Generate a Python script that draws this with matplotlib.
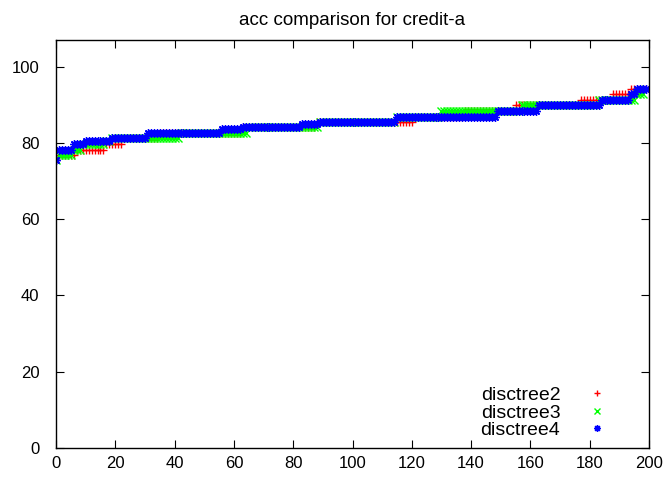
import numpy as np
import matplotlib
matplotlib.use('Agg')
from matplotlib import pyplot as plt

plt.rcParams['font.family'] = ['Liberation Sans', 'DejaVu Sans']

# sorted accuracies per run: each series as (level, how many runs hit it)
tree2_levels = [75.4, 76.8, 78.1, 79.6, 81.2, 82.6, 84.1, 85.6, 86.9, 88.3, 89.9, 91.3, 92.8, 94.2]
tree2_counts = [1, 6, 10, 6, 12, 28, 25, 33, 17, 17, 22, 11, 6, 6]

tree3_levels = [75.4, 76.8, 78.1, 79.6, 80.6, 81.2, 82.6, 84.1, 85.6, 86.9, 88.3, 89.9, 91.3, 92.8, 94.2]
tree3_counts = [1, 5, 3, 8, 2, 23, 23, 24, 26, 15, 27, 26, 13, 3, 1]

tree4_levels = [75.4, 78.1, 79.6, 80.6, 81.2, 82.6, 83.6, 84.1, 85.1, 85.6, 86.9, 88.3, 89.9, 91.3, 92.8, 94.2]
tree4_counts = [1, 5, 4, 9, 12, 25, 7, 20, 6, 26, 34, 14, 21, 10, 2, 4]

names = ['disctree2', 'disctree3', 'disctree4']
colors = ['#ff0000', '#00ff00', '#0000ff']
markers = ['+', 'x', (8, 2, 0)]

acc = [np.repeat(tree2_levels, tree2_counts),
       np.repeat(tree3_levels, tree3_counts),
       np.repeat(tree4_levels, tree4_counts)]

fig = plt.figure(figsize=(6.7, 4.78), dpi=100)
ax = fig.add_axes([56 / 670, 30 / 478, 593 / 670, 408 / 478])

for a, name, c, m in zip(acc, names, colors, markers):
    ax.plot(np.arange(len(a)), a, linestyle='none', marker=m, color=c,
            markersize=6, markeredgewidth=1.0, label=name)

ax.set_xlim(0, 200)
ax.set_ylim(0, 107)
ax.set_xticks(np.arange(0, 201, 20))
ax.set_yticks(np.arange(0, 101, 20))
ax.tick_params(direction='in', top=True, right=True, length=6, width=0.8, labelsize=12)
ax.tick_params(axis='y', pad=12)
ax.tick_params(axis='x', pad=6)
for s in ax.spines.values():
    s.set_linewidth(1.0)

ax.set_title('acc comparison for credit-a', fontsize=13.5, pad=11)
leg = ax.legend(loc='lower right', bbox_to_anchor=(0.952, -0.012), frameon=False,
                markerfirst=False, fontsize=14, handlelength=1.0, handletextpad=1.4,
                labelspacing=0.0, borderpad=0.2, markerscale=0.8)

fig.savefig('out.png', dpi=100)
